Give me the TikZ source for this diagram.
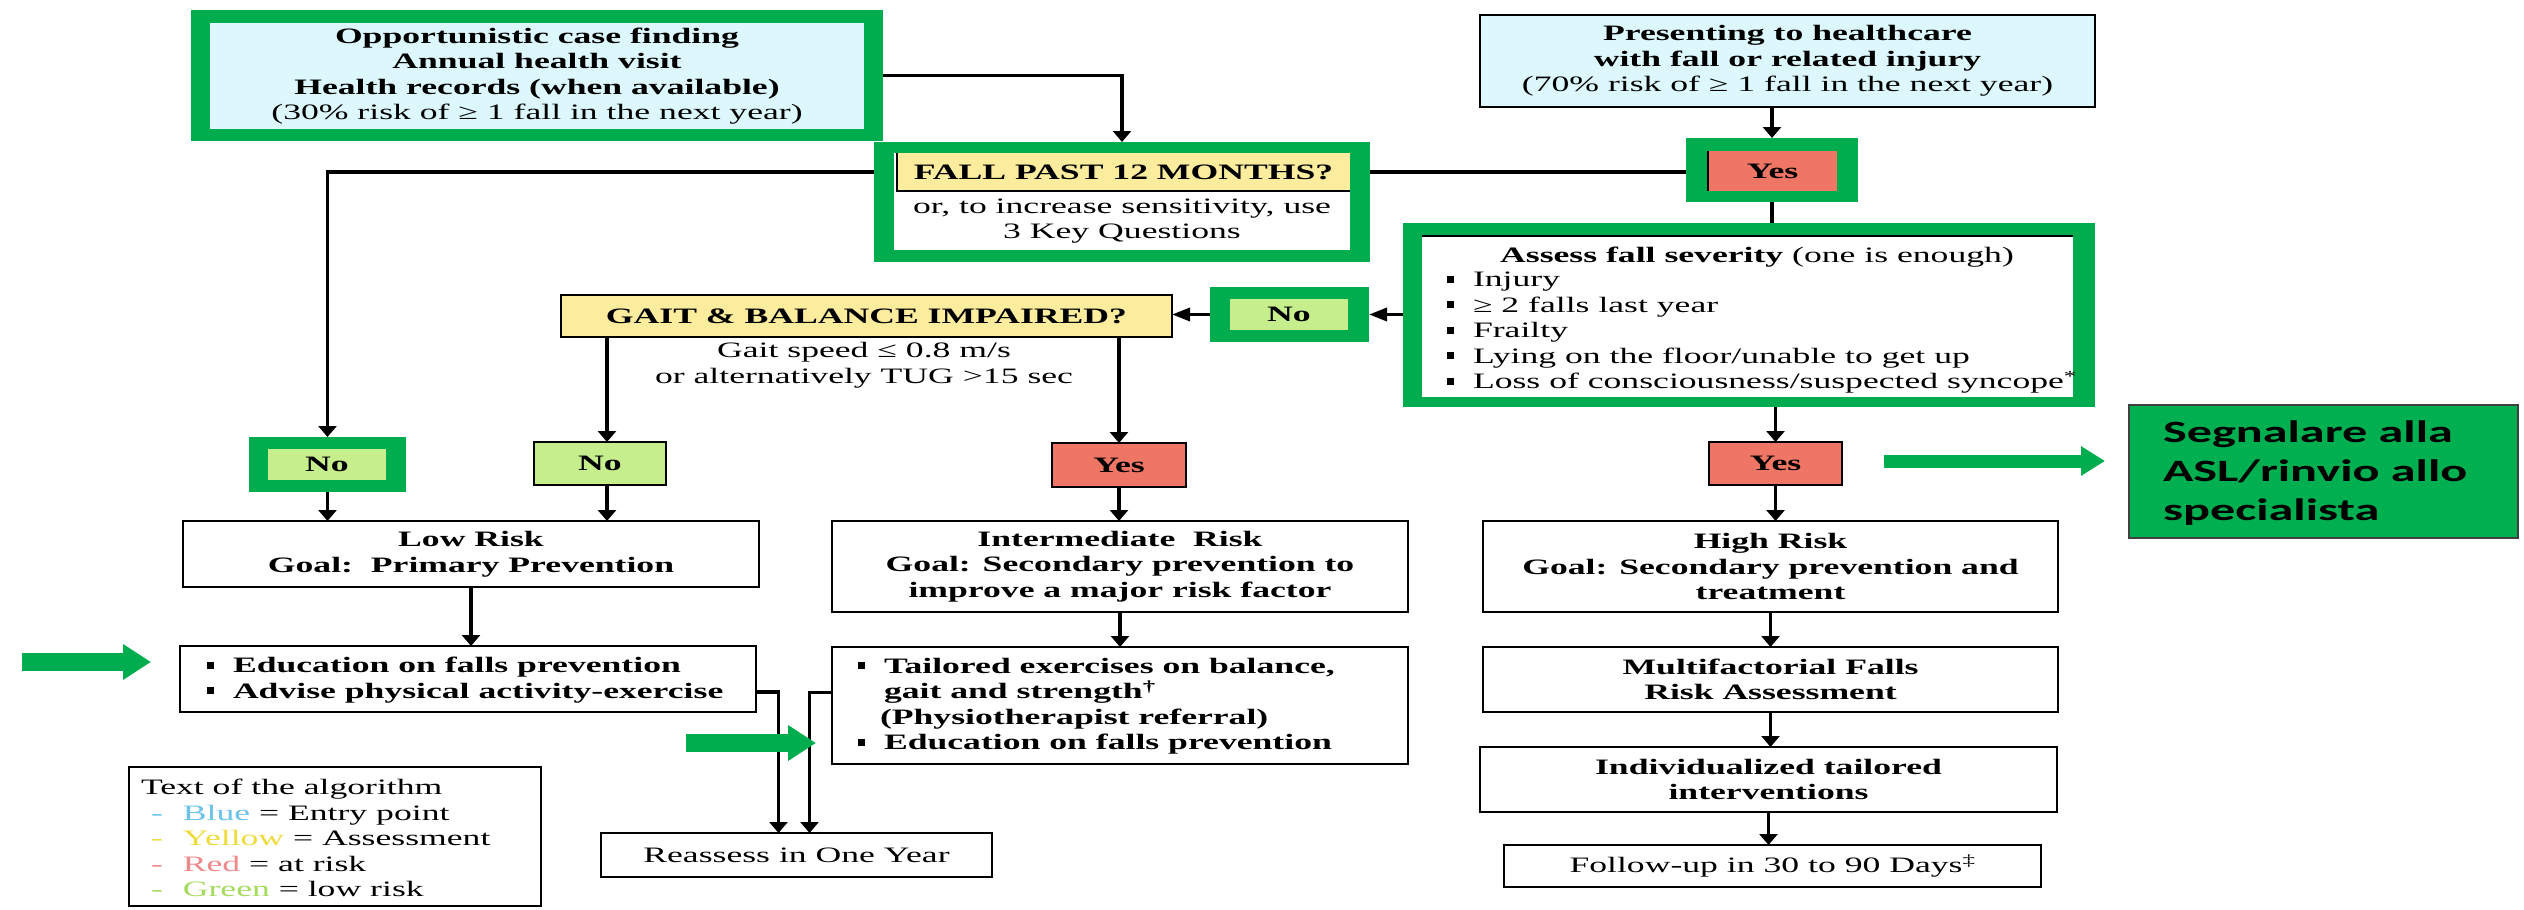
\documentclass[tikz,border=0pt]{standalone}
\usepackage{fontspec}
\setmainfont{Liberation Serif}[FakeStretch=1.62]
\newfontfamily\segfont{Carlito}[FakeStretch=1.62]
\usetikzlibrary{arrows.meta,backgrounds}
\definecolor{hlgreen}{HTML}{00AD4E}
\definecolor{segreen}{HTML}{00B050}
\definecolor{lcyan}{HTML}{DDF8FC}
\definecolor{lyellow}{HTML}{FBEC9E}
\definecolor{lred}{HTML}{EF7565}
\definecolor{lgreen}{HTML}{C6EE8C}
\definecolor{legblue}{HTML}{6CC3EA}
\definecolor{legyellow}{HTML}{EEDC3C}
\definecolor{legred}{HTML}{EF8A8A}
\definecolor{leggreen}{HTML}{A6DB5E}
\newcommand\blt{\makebox[26pt][l]{\raisebox{4pt}{\rule{7pt}{7pt}}}}
\newcommand\legitem[3]{\hspace*{10pt}\textcolor{#1}{-}\hspace*{20pt}\textcolor{#1}{#2} = #3}
\begin{document}
\begin{tikzpicture}[x=1pt,y=-1pt,
 every node/.style={font=\fontsize{22}{25.5}\selectfont, inner sep=0pt, outer sep=0pt, align=center},
 bf/.style={font=\fontsize{22}{25.5}\selectfont\bfseries},
 bx/.style 2 args={anchor=north west, minimum width=#1pt, minimum height=#2pt},
 frame/.style={fill=hlgreen},
 plain/.style={draw=black, line width=2.5pt, fill=white},
 conn/.style={line width=3.5pt, black},
 varr/.style={conn, -{Triangle[length=11pt,width=18pt]}},
 harr/.style={conn, -{Triangle[length=18pt,width=13pt]}},
 garrow/.style={draw=hlgreen, line width=18pt, -{Triangle[length=28pt,width=34pt]}},
]
\useasboundingbox (0,0) rectangle (2524,910);

% top-left entry
\node[bx={692}{131}, frame] (tlf) at (191,10) {};
\node[bx={654}{106}, fill=lcyan] (tl) at (210,23) {\textbf{Opportunistic case finding}\\\textbf{Annual health visit}\\\textbf{Health records (when available)}\\(30\% risk of ≥ 1 fall in the next year)};

% fall question
\node[bx={496}{120}, frame] (fallf) at (874,142) {};
\node[bx={456}{97}, fill=white] (fallw) at (894,153) {};
\node[bx={453}{38}, fill=lyellow, bf] (fallq) at (897,153) {FALL PAST 12 MONTHS?};
\draw[line width=2pt] (fallq.north west) -- (fallq.south west) -- (fallq.south east);
\node (fallt) at (1122,221) {or, to increase sensitivity, use\\3 Key Questions};

% presenting
\node[bx={615}{92}, plain, fill=lcyan] (pres) at (1480,15) {\textbf{Presenting to healthcare}\\\textbf{with fall or related injury}\\(70\% risk of ≥ 1 fall in the next year)};

% yes 1
\node[bx={172}{64}, frame] (yes1f) at (1686,138) {};
\node[bx={129}{40}, fill=lred, bf] (yes1) at (1708,151) {Yes};
\draw[line width=2pt] (yes1.north west) -- (yes1.south west);

% assess
\node[bx={692}{184}, frame] (assessf) at (1403,223) {};
\node[bx={651}{161}, fill=white] (assess) at (1422,236) {};
\draw[line width=1.5pt] (assess.north west) -- (assess.north east);
\node (assesst) at (1757,257) {\textbf{Assess fall severity} (one is enough)};
\node[anchor=west, align=left] (assessl) at (1447,333) {\blt Injury\\\blt ≥ 2 falls last year\\\blt Frailty\\\blt Lying on the floor/unable to get up\\\blt Loss of consciousness/suspected syncope\textsuperscript{*}};

% no 2
\node[bx={159}{55}, frame] (no2f) at (1210,287) {};
\node[bx={118}{31}, fill=lgreen, bf] (no2) at (1230,299) {No};

% gait
\node[bx={611}{42}, plain, fill=lyellow, bf] (gait) at (561,295) {GAIT \& BALANCE IMPAIRED?};
\node (gaitt) at (864,365) {Gait speed ≤ 0.8 m/s\\or alternatively TUG >15 sec};

% no / yes row
\node[bx={157}{55}, frame] (no1f) at (249,437) {};
\node[bx={118}{31}, fill=lgreen, bf] (no1) at (268,449) {No};
\node[bx={132}{43}, plain, fill=lgreen, bf] (no3) at (534,442) {No};
\node[bx={134}{44}, plain, fill=lred, bf] (yes2) at (1052,443) {Yes};
\node[bx={133}{43}, plain, fill=lred, bf] (yes3) at (1709,442) {Yes};

% low risk column
\node[bx={576}{66}, plain, bf] (low) at (183,521) {Low Risk\\Goal:\ \ Primary Prevention};
\node[bx={576}{66}, plain] (edu) at (180,646) {};
\node[anchor=west, align=left, bf] (edul) at (207,680) {\blt Education on falls prevention\\\blt Advise physical activity-exercise};

% intermediate column
\node[bx={576}{91}, plain, bf] (inter) at (832,521) {Intermediate\ \ Risk\\Goal: Secondary prevention to\\improve a major risk factor};
\node[bx={576}{117}, plain] (tail) at (832,647) {};
\node[anchor=west, align=left, bf] (taill) at (858,706) {\blt Tailored exercises on balance,\\\hspace*{26pt}gait and strength\textsuperscript{†}\\\hspace*{22pt}(Physiotherapist referral)\\\blt Education on falls prevention};

\node[bx={391}{44}, plain] (reas) at (601,833) {Reassess in One Year};

% legend
\node[bx={412}{139}, draw=black, line width=1.5pt] (leg) at (129,767) {};
\node[anchor=west, align=left] (legt) at (141,838) {Text of the algorithm\\\legitem{legblue}{Blue}{Entry point}\\\legitem{legyellow}{Yellow}{Assessment}\\\legitem{legred}{Red}{at risk}\\\legitem{leggreen}{Green}{low risk}};

% high risk column
\node[bx={575}{91}, plain, bf] (high) at (1483,521) {High Risk\\Goal: Secondary prevention and\\treatment};
\node[bx={575}{65}, plain, bf] (multi) at (1483,647) {Multifactorial Falls\\Risk Assessment};
\node[bx={577}{65}, plain, bf] (indiv) at (1480,747) {Individualized tailored\\interventions};
\node[bx={537}{42}, plain] (follow) at (1504,845) {Follow-up in 30 to 90 Days\textsuperscript{‡}};

% segnalare
\node[bx={389}{133}, fill=segreen, draw=black!75, line width=1.2pt] (seg) at (2129,405) {};
\node[anchor=west, align=left, font=\segfont\fontsize{31}{39}\selectfont\bfseries] (segt) at (2163,473) {Segnalare alla\\ASL/rinvio allo\\specialista};

\coordinate (no3in) at ([xshift=7pt]no3.north);
\coordinate (no3out) at ([xshift=7pt]no3.south);
\coordinate (eduout) at ([yshift=-13pt]edu.east);
\coordinate (tailout) at ([yshift=13pt]tail.west);
\coordinate (reasL) at ([xshift=-18pt]reas.north);
\coordinate (reasR) at ([xshift=13pt]reas.north);

\begin{pgfonlayer}{background}
\fill[white] (0,0) rectangle (2524,910);
\draw[varr] (tlf.east) -| (fallf.north);
\draw[varr] (fallq.west) -| (no1f.north);
\draw[conn] (fallq.east) -- (fallq.east -| yes1.west);
\draw[varr] (yes1f.north |- pres.south) -- (yes1f.north);
\draw[conn] (yes1f.south) -- (yes1f.south |- assessf.north);
\draw[harr] (assessf.west |- no2f.east) -- (no2f.east);
\draw[harr] (no2f.west) -- (no2f.west -| gait.east);
\draw[varr] (no3in |- gait.south) -- (no3in);
\draw[varr] (yes2.north |- gait.south) -- (yes2.north);
\draw[varr] (no1f.south) -- (no1f.south |- low.north);
\draw[varr] (no3out) -- (no3out |- low.north);
\draw[varr] (yes2.south) -- (yes2.south |- inter.north);
\draw[varr] (low.south) -- (low.south |- edu.north);
\draw[varr] (inter.south) -- (inter.south |- tail.north);
\draw[varr] (eduout) -| (reasL);
\draw[varr] (tailout) -| (reasR);
\draw[varr] (yes3.north |- assessf.south) -- (yes3.north);
\draw[varr] (yes3.south) -- (yes3.south |- high.north);
\draw[varr] (high.south) -- (high.south |- multi.north);
\draw[varr] (multi.south) -- (multi.south |- indiv.north);
\draw[varr] (indiv.south) -- (indiv.south |- follow.north);
\end{pgfonlayer}

% green pointer arrows
\coordinate (g1) at (22,662);
\coordinate (g2) at (686,743);
\coordinate (g3) at (1884,461);
\draw[garrow, shorten >=29pt] (g1) -- (g1 -| edu.west);
\draw[garrow, shorten >=16pt] (g2) -- (g2 -| tail.west);
\draw[garrow, line width=13pt, -{Triangle[length=24pt,width=28pt]}, shorten >=24pt] (g3) -- (g3 -| seg.west);
\end{tikzpicture}
\end{document}
